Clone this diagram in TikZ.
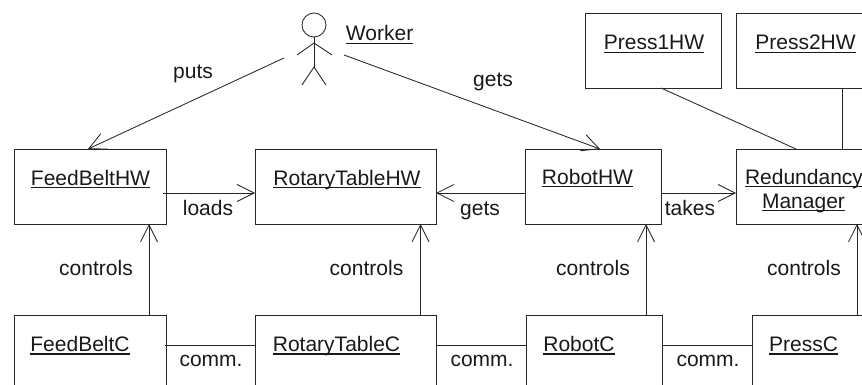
\documentclass[tikz,border=0pt]{standalone}
\usepackage{fontspec}
\setmainfont{Liberation Sans}
\usetikzlibrary{arrows.meta}
\newsavebox{\ulbox}
\newcommand{\ultext}[1]{\sbox{\ulbox}{#1}\rlap{\rule[-3.2pt]{\wd\ulbox}{1.3pt}}\usebox{\ulbox}}
\tikzset{
  line/.style={draw=black!85, line width=0.85pt},
  box/.style={line, rectangle, anchor=north west, inner sep=0pt, outer sep=0pt},
  hwbox/.style={box, minimum height=75pt},
  ctrlbox/.style={box, minimum height=110pt},
  txt/.style={anchor=base, inner sep=0pt, outer sep=0pt, font=\fontsize{21}{25}\selectfont, text=black!90},
  rel/.style={line, -{Straight Barb[length=17pt,width=17pt,line width=0.85pt]}},
  assoc/.style={line}
}
\begin{document}
\begin{tikzpicture}[x=1pt,y=-1pt]
\useasboundingbox (0,0) rectangle (862,385);
\clip (0,0) rectangle (862,385);
% boxes
\node[hwbox, minimum width=152pt] (feedhw) at (14,149) {};
\node[hwbox, minimum width=181pt] (rothw) at (255,149) {};
\node[hwbox, minimum width=136pt] (robhw) at (525,149) {};
\node[hwbox, minimum width=180pt] (redun) at (736,149) {};
\node[hwbox, minimum width=136pt] (press1) at (585,13) {};
\node[hwbox, minimum width=180pt] (press2) at (736,13) {};
\node[ctrlbox, minimum width=152pt] (feedc) at (14,315) {};
\node[ctrlbox, minimum width=181pt] (rotc) at (255,315) {};
\node[ctrlbox, minimum width=136pt] (robc) at (526,315) {};
\node[ctrlbox, minimum width=180pt] (pressc) at (752,315) {};
% box titles
\node[txt] (tfeedhw) at (90.5,185) {\ultext{FeedBeltHW}};
\node[txt] (trothw) at (347,185) {\ultext{RotaryTableHW}};
\node[txt] (trobhw) at (587.5,184) {\ultext{RobotHW}};
\node[txt] (tredun) at (804,184) {\ultext{Redundancy}};
\node[txt] (tmanager) at (803.5,208) {\ultext{Manager}};
\node[txt] (tpress1) at (654,50) {\ultext{Press1HW}};
\node[txt] (tpress2) at (805.5,50) {\ultext{Press2HW}};
\node[txt] (tfeedc) at (80,351.5) {\ultext{FeedBeltC}};
\node[txt] (trotc) at (336.5,351.5) {\ultext{RotaryTableC}};
\node[txt] (trobc) at (579,351.5) {\ultext{RobotC}};
\node[txt] (tpressc) at (803.5,351.5) {\ultext{PressC}};
% actor
\node[line, circle, minimum size=24pt, inner sep=0pt, outer sep=0pt] (head) at (314,25) {};
\coordinate (neck) at (314,43);
\coordinate (hip) at (314,67);
\coordinate (lhand) at (297,55);
\coordinate (rhand) at (332,55);
\coordinate (lfoot) at (302,85);
\coordinate (rfoot) at (326,85);
\draw[line] (head.south) -- (hip);
\draw[line] (lhand) -- (neck) -- (rhand);
\draw[line] (lfoot) -- (hip) -- (rfoot);
\node[txt] (tworker) at (379.6,41) {\ultext{Worker}};
\coordinate (actorl) at (284,58);
\coordinate (actorr) at (344,55);
% connectors
\draw[rel] (actorl) -- ([xshift=74pt]feedhw.north west);
\draw[rel] (actorr) -- ([xshift=75pt]robhw.north west);
\draw[assoc] ([xshift=76pt]press1.south west) -- ([xshift=60pt]redun.north west);
\draw[assoc] ([xshift=106pt]press2.south west) -- ([xshift=106pt]redun.north west);
\draw[rel] ([yshift=-44pt,xshift=-3pt]feedhw.north east) -- ([yshift=-44pt]rothw.north west);
\draw[rel] ([yshift=-44pt]robhw.north west) -- ([yshift=-44pt]rothw.north east);
\draw[rel] ([yshift=-44pt]robhw.north east) -- ([yshift=-44pt]redun.north west);
\draw[rel] ([xshift=135pt]feedc.north west) -- ([xshift=135pt]feedhw.south west);
\draw[rel] ([xshift=165.5pt]rotc.north west) -- ([xshift=165.5pt]rothw.south west);
\draw[rel] ([xshift=120pt]robc.north west) -- ([xshift=121pt]robhw.south west);
\draw[rel] ([xshift=105pt]pressc.north west) -- ([xshift=121pt]redun.south west);
\draw[assoc] ([yshift=-30pt,xshift=-1pt]feedc.north east) -- ([yshift=-30pt]rotc.north west);
\draw[assoc] ([yshift=-30pt]rotc.north east) -- ([yshift=-30pt]robc.north west);
\draw[assoc] ([yshift=-30pt]robc.north east) -- ([yshift=-30pt]pressc.north west);
% labels
\node[txt] (lputs) at (193,79) {puts};
\node[txt] (lgets1) at (493,87) {gets};
\node[txt] (lloads) at (208,215) {loads};
\node[txt] (lgets2) at (480,215) {gets};
\node[txt] (ltakes) at (690,215) {takes};
\node[txt] (lc1) at (96,275.5) {controls};
\node[txt] (lc2) at (366.5,275.5) {controls};
\node[txt] (lc3) at (593,275.5) {controls};
\node[txt] (lc4) at (804,275.5) {controls};
\node[txt] (lm1) at (211,366) {comm.};
\node[txt] (lm2) at (482,366) {comm.};
\node[txt] (lm3) at (708,366) {comm.};
\end{tikzpicture}
\end{document}
